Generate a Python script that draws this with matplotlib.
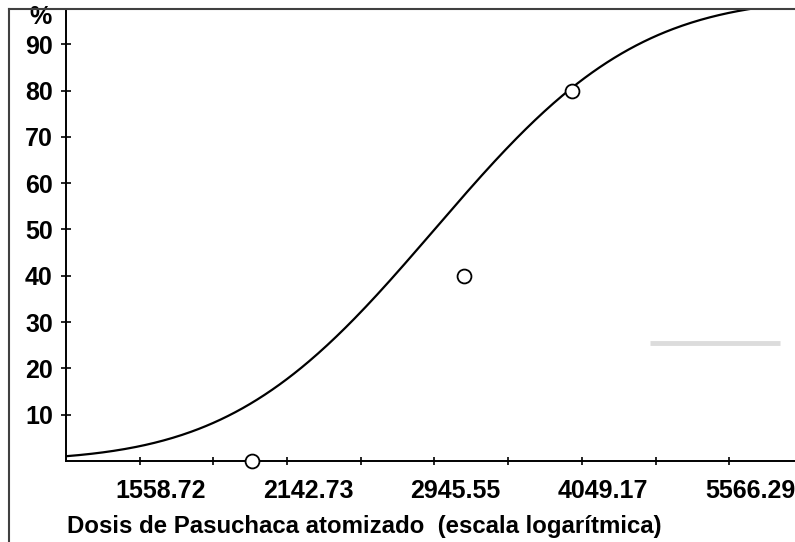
import numpy as np
import matplotlib.pyplot as plt
import matplotlib.transforms as mtransforms
from math import erf

plt.rcParams['font.family'] = ['Liberation Sans', 'DejaVu Sans']
plt.rcParams['font.weight'] = 'bold'

# observed mortality per dose
dose_obs = [1985.0, 3140.0, 3960.0]
pct_obs = [0.0, 40.0, 80.0]

# fitted probit model (log10 dose)
ld50 = 2945.55
slope = 6.7

# labelled ticks on the dose axis
tick_labels = ['1558.72', '2142.73', '2945.55', '4049.17', '5566.29']
tick_values = [float(t) for t in tick_labels]
y_ticks = [10, 20, 30, 40, 50, 60, 70, 80, 90]

fig = plt.figure(figsize=(7.95, 5.42), dpi=100)
W, H = 795, 542
AW, AH = W + 8 - 66, 461 - 10
ax = fig.add_axes([66 / W, 1 - 461 / H, AW / W, AH / H])

step = tick_values[1] / tick_values[0]
xmin = tick_values[0] / np.sqrt(step)
xmax = tick_values[0] * np.exp(np.log(step) / 148 * (W + 8 - 140))

xs = np.exp(np.linspace(np.log(xmin), np.log(xmax), 400))
z = slope * (np.log10(xs) - np.log10(ld50))
ys = np.array([50 * (1 + erf(v / np.sqrt(2))) for v in z])
ax.plot(xs, ys, color='black', lw=1.6, zorder=3)

ax.plot(dose_obs, pct_obs, 'o', ms=10, mfc='white', mec='black', mew=1.3,
        clip_on=False, zorder=5)

ax.set_xscale('log')
ax.set_xlim(xmin, xmax)
ax.set_ylim(0, 97.4)

ax.set_xticks(tick_values)
ax.set_xticklabels(tick_labels)
ax.set_xticks([v * np.sqrt(step) for v in tick_values], minor=True)
ax.xaxis.set_minor_formatter(plt.NullFormatter())
ax.set_yticks(y_ticks)
ax.set_yticklabels([str(v) for v in y_ticks])

ax.tick_params(axis='x', which='both', direction='inout', length=6, width=1.2,
               labelsize=18, pad=10)
ax.tick_params(axis='y', direction='inout', length=7, width=1.2,
               labelsize=18, pad=6)

# dose labels sit a little to the right of their ticks
shift = mtransforms.ScaledTranslation(21 / 100, 0, fig.dpi_scale_trans)
for lab in ax.get_xticklabels():
    lab.set_transform(lab.get_transform() + shift)

for side in ['top', 'right']:
    ax.spines[side].set_visible(False)
for side in ['left', 'bottom']:
    ax.spines[side].set_linewidth(1.4)

ax.set_xlabel('Dosis de Pasuchaca atomizado  (escala logarítmica)',
              fontsize=17.3, fontweight='bold')
ax.xaxis.set_label_coords(1 / AW, -(526 - 461) / AH)
ax.xaxis.label.set_horizontalalignment('left')
ax.xaxis.label.set_verticalalignment('center')

ax.text(-14 / AW, (461 - 17) / AH, '%', transform=ax.transAxes, ha='right',
        va='center', fontsize=18, fontweight='bold')

# grey stub on the right side of the plot area
ax.plot([(650 - 66) / AW, (780 - 66) / AW], [(461 - 343) / AH] * 2,
        transform=ax.transAxes, color='#dcdcdc', lw=3.5, solid_capstyle='butt')

# window frame
fig.add_artist(plt.Line2D([9 / W, 9 / W], [0, 1 - 9 / H], color='#404040', lw=1.5))
fig.add_artist(plt.Line2D([9 / W, 1], [1 - 9 / H, 1 - 9 / H], color='#404040', lw=1.5))

fig.savefig('out.png', dpi=100)
